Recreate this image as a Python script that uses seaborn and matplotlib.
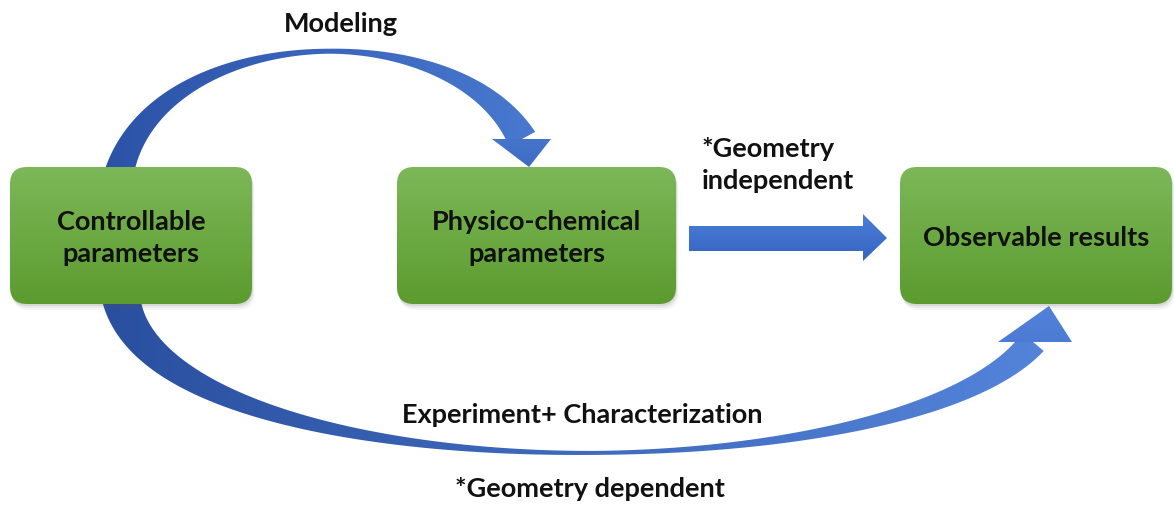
import numpy as np
import seaborn as sns
import matplotlib.pyplot as plt
from matplotlib.patches import FancyBboxPatch, Polygon
from matplotlib.colors import LinearSegmentedColormap

# teks diagram
node_labels = ["Controllable\nparameters", "Physico-chemical\nparameters", "Observable results"]
top_label = "Modeling"
mid_label = "*Geometry\nindependent"
bottom_label = "Experiment+ Characterization"
bottom_note = "*Geometry dependent"

# tata letak (koordinat piksel, sumbu y terbalik)
W, H = 1174, 506
box_x = [10, 397, 900]
box_w = [242, 279, 272]
box_y, box_h = 168, 137
FS = 19.5

sns.set_theme(style="white")
plt.rcParams["font.family"] = ["Lato", "DejaVu Sans"]

fig = plt.figure(figsize=(W / 100, H / 100), dpi=100)
ax = fig.add_axes([0, 0, 1, 1])
ax.set_axis_off()


def gradient(patch, c1, c2, z, horizontal=False, ext=None):
    ax.add_patch(patch)
    patch.set_facecolor("none")
    patch.set_edgecolor("none")
    g = np.linspace(0, 1, 256)
    g = g[None, :] if horizontal else g[:, None]
    cmap = LinearSegmentedColormap.from_list("g", [c1, c2])
    if ext is None:
        ext = (0, W, H, 0)
    im = ax.imshow(g, cmap=cmap, extent=ext, origin="upper", aspect="auto", zorder=z)
    im.set_clip_path(patch)


def band(P, w0, wmin, w1, tm, n=300):
    P = np.array(P, float)
    t = np.linspace(0, 1, n)
    B = (((1 - t) ** 3)[:, None] * P[0] + (3 * (1 - t) ** 2 * t)[:, None] * P[1]
         + (3 * (1 - t) * t ** 2)[:, None] * P[2] + (t ** 3)[:, None] * P[3])
    d = ((3 * (1 - t) ** 2)[:, None] * (P[1] - P[0]) + (6 * (1 - t) * t)[:, None] * (P[2] - P[1])
         + (3 * t ** 2)[:, None] * (P[3] - P[2]))
    nr = np.stack([-d[:, 1], d[:, 0]], 1)
    nr /= np.linalg.norm(nr, axis=1)[:, None]
    w = np.where(t < tm, wmin + (w0 - wmin) * ((tm - t) / tm) ** 1.6,
                 wmin + (w1 - wmin) * ((t - tm) / (1 - tm)) ** 1.6)
    return np.vstack([B + nr * w[:, None] / 2, (B - nr * w[:, None] / 2)[::-1]])


# panah lengkung atas (Modeling)
top_arc = band([(116, 190), (138, 25), (450, 8), (522, 140)], 32, 5, 30, 0.55)
gradient(Polygon(top_arc, closed=True), "#2b52a6", "#4a7bd2", 1, horizontal=True, ext=(100, 560, H, 0))
gradient(Polygon([(492, 140), (551, 140), (529, 168)], closed=True),
         "#4676cc", "#3f6cc4", 1, ext=(490, 555, 168, 135))

# panah lengkung bawah (Experiment)
bot_arc = band([(120, 290), (135, 495), (900, 502), (1033, 343)], 40, 4, 28, 0.55)
gradient(Polygon(bot_arc, closed=True), "#2a4f9f", "#5586dc", 1, horizontal=True, ext=(100, 1080, H, 0))
gradient(Polygon([(998, 343), (1072, 343), (1049, 307)], closed=True),
         "#5282d8", "#4b7bd3", 1, ext=(995, 1075, 345, 305))

# panah lurus
arrow = [(689, 227), (863, 227), (863, 215), (887, 239), (863, 262), (863, 252), (689, 252)]
gradient(Polygon(arrow, closed=True), "#4d7fd8", "#3463c0", 2, ext=(685, 890, 264, 213))

# kotak hijau dengan bayangan
for x, w, lab in zip(box_x, box_w, node_labels):
    for k, a in [(6, 0.05), (4, 0.08), (2, 0.12)]:
        ax.add_patch(FancyBboxPatch((x + k * 0.4, box_y + k), w, box_h,
                                    boxstyle="round,pad=0,rounding_size=17",
                                    fc="#555555", ec="none", alpha=a, zorder=2))
    box = FancyBboxPatch((x, box_y), w, box_h, boxstyle="round,pad=0,rounding_size=17")
    gradient(box, "#7cb858", "#5c9b2f", 3, ext=(x, x + w, box_y + box_h, box_y))
    ax.text(x + w / 2, box_y + box_h / 2 + 2, lab, ha="center", va="center",
            fontsize=FS, fontweight="bold", color="#111111", linespacing=1.4, zorder=4)

ax.text(341, 24, top_label, ha="center", va="center", fontsize=FS,
        fontweight="bold", color="#111111", zorder=4)
ax.text(702, 165, mid_label, ha="left", va="center", fontsize=FS,
        fontweight="bold", color="#111111", linespacing=1.4, zorder=4)
ax.text(582, 415, bottom_label, ha="center", va="center", fontsize=FS,
        fontweight="bold", color="#111111", zorder=4)
ax.text(590, 489, bottom_note, ha="center", va="center", fontsize=FS,
        fontweight="bold", color="#111111", zorder=4)

ax.set_xlim(0, W)
ax.set_ylim(H, 0)

fig.savefig("out.png", dpi=100, facecolor="white")
